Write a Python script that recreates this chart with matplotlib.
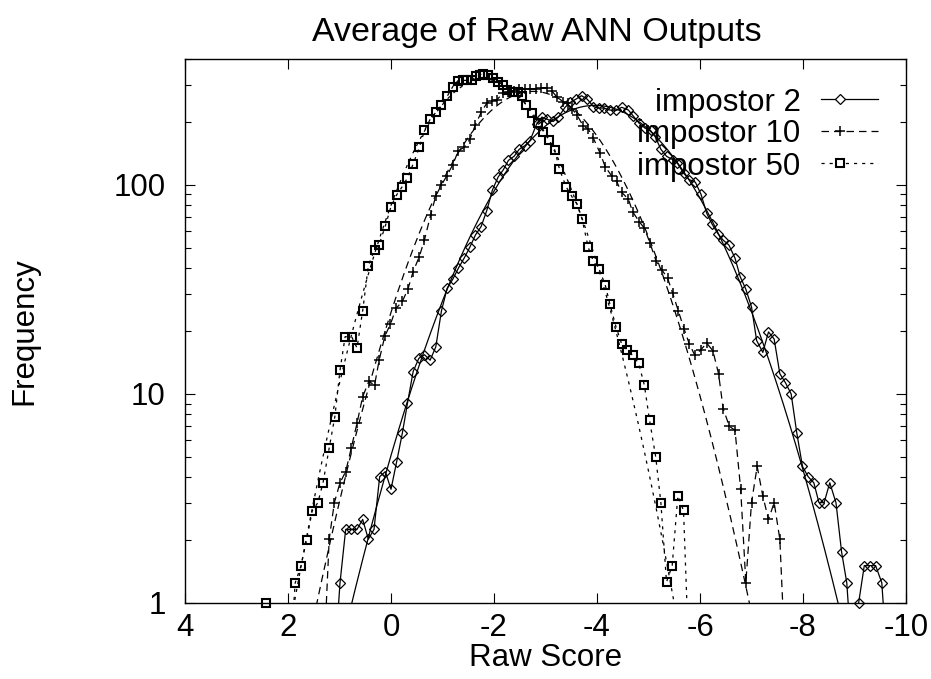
import numpy as np
import matplotlib
matplotlib.use("Agg")
import matplotlib.pyplot as plt
from matplotlib.ticker import NullFormatter, FixedLocator

plt.rcParams['font.family'] = ['Liberation Sans', 'DejaVu Sans']
plt.rcParams['axes.unicode_minus'] = False

# impostor 2 (diamonds)
x_imp2 = [1.10, 0.99, 0.88, 0.77, 0.66, 0.55, 0.44, 0.33, 0.22, 0.11, 0.0, -0.11, -0.22, -0.32,
          -0.43, -0.54, -0.65, -0.76, -0.87, -0.98, -1.09, -1.20, -1.31, -1.42, -1.53, -1.64,
          -1.75, -1.86, -1.97, -2.08, -2.18, -2.28, -2.39, -2.49, -2.60, -2.70, -2.83, -2.93,
          -3.03, -3.15, -3.25, -3.38, -3.48, -3.59, -3.70, -3.81, -3.93, -4.03, -4.14, -4.25,
          -4.37, -4.48, -4.61, -4.70, -4.82, -4.93, -5.04, -5.13, -5.24, -5.35, -5.47, -5.56,
          -5.68, -5.79, -5.91, -6.02, -6.13, -6.23, -6.35, -6.45, -6.56, -6.68, -6.78, -6.89,
          -7.00, -7.10, -7.22, -7.33, -7.44, -7.55, -7.66, -7.77, -7.88, -7.99, -8.10, -8.21,
          -8.31, -8.41, -8.52, -8.64, -8.75, -8.85, -8.96, -9.08, -9.19, -9.30, -9.41, -9.53, -9.64]
y_imp2 = [0.5, 1.25, 2.25, 2.25, 2.25, 2.51, 2.02, 2.25, 4.02, 4.25, 3.5, 4.74, 6.49, 9.03,
          12.8, 14.8, 15.4, 14.5, 16.8, 25, 32.0, 35.4, 40, 44.6, 50.3, 57.6,
          63.2, 75.4, 94.6, 109, 118, 131, 137, 148, 154, 163, 196, 211,
          206, 201, 211, 235, 248, 257, 267, 257, 237, 233, 233, 228,
          227, 235, 228, 214, 197, 187, 182, 170, 148, 137, 132, 127,
          114, 106, 103, 90, 73.2, 65.2, 58.3, 54.4, 51.6, 44.6, 36.4, 31.7,
          26.1, 18.0, 15.8, 19.8, 18.3, 12.5, 11.3, 10.0, 6.49, 4.5, 4.02, 3.76,
          3.02, 3.02, 3.76, 3.02, 1.75, 1.25, 0.5, 1.0, 1.51, 1.51, 1.51, 1.25, 0.5]

# impostor 10 (plus)
x_imp10 = [1.31, 1.20, 1.10, 0.99, 0.88, 0.77, 0.66, 0.55, 0.43, 0.32, 0.23, 0.12, 0.01, -0.10,
           -0.22, -0.33, -0.43, -0.55, -0.65, -0.77, -0.87, -0.98, -1.08, -1.20, -1.31, -1.42,
           -1.53, -1.64, -1.75, -1.86, -1.96, -2.06, -2.18, -2.28, -2.38, -2.49, -2.60, -2.70,
           -2.81, -2.92, -3.02, -3.13, -3.23, -3.34, -3.44, -3.52, -3.61, -3.73, -3.83, -3.93,
           -4.06, -4.16, -4.29, -4.38, -4.48, -4.61, -4.69, -4.82, -4.92, -5.03, -5.15, -5.26,
           -5.37, -5.47, -5.58, -5.69, -5.79, -5.90, -6.01, -6.13, -6.25, -6.36, -6.45, -6.57,
           -6.68, -6.79, -6.89, -7.00, -7.11, -7.22, -7.33, -7.44, -7.55, -7.66]
y_imp10 = [0.5, 2.02, 3.02, 3.76, 4.25, 5.53, 7.24, 9.7, 11.5, 11.0, 14.5, 18.9, 21.6, 25.7,
           27.7, 31.8, 38.5, 45.4, 54.6, 71.8, 88.6, 100, 110, 125, 146, 151,
           165, 194, 222, 246, 253, 256, 275, 279, 282, 287, 287, 288,
           288, 291, 291, 280, 262, 250, 246, 230, 216, 192, 185, 167,
           142, 122, 110, 104, 92, 85.5, 74.5, 66.7, 62.1, 52.6, 43, 39.2,
           35.8, 30.3, 24.9, 20.5, 17.4, 15.3, 16.2, 17.5, 16.1, 12.5, 8.5, 7.0,
           6.7, 3.5, 1.25, 3.02, 4.5, 3.25, 2.51, 3.02, 2.02, 0.5]

# impostor 50 (squares)
x_imp50 = [2.43, 2.33, 1.97, 1.86, 1.75, 1.64, 1.53, 1.42, 1.32, 1.20, 1.09, 0.99, 0.89, 0.76,
           0.66, 0.55, 0.44, 0.32, 0.23, 0.11, 0.0, -0.11, -0.22, -0.32, -0.43, -0.55,
           -0.65, -0.76, -0.87, -0.98, -1.09, -1.20, -1.30, -1.39, -1.48, -1.57, -1.65, -1.72,
           -1.79, -1.89, -1.99, -2.08, -2.18, -2.26, -2.36, -2.46, -2.54, -2.62, -2.73, -2.85,
           -2.96, -3.07, -3.18, -3.27, -3.40, -3.51, -3.61, -3.71, -3.83, -3.93, -4.04, -4.16,
           -4.25, -4.37, -4.48, -4.59, -4.69, -4.81, -4.92, -5.02, -5.14, -5.24, -5.35, -5.46,
           -5.57, -5.68, -5.79]
y_imp50 = [1.0, 0.3, 0.5, 1.25, 1.50, 2.0, 2.76, 3.02, 3.76, 5.52, 7.79, 13.0, 18.8, 18.7,
           16.6, 25.0, 41.0, 48.9, 51.8, 63.6, 78.8, 89.6, 98.2, 108, 126, 151,
           182, 206, 222, 240, 265, 295, 315, 316, 316, 316, 330, 336,
           340, 336, 324, 312, 301, 285, 277, 277, 265, 241, 220, 197,
           180, 164, 147, 119, 98, 88, 81, 68.5, 50.3, 43, 39.6, 33.2,
           26.9, 20.9, 17.3, 16.2, 15.3, 14.0, 11.0, 7.5, 5.0, 3.02, 1.26, 1.51,
           3.26, 2.77, 0.5]

labels = ["impostor 2", "impostor 10", "impostor 50"]
# gaussian fit of each distribution: peak height, centre, width
fit_peak = [240, 280, 320]
fit_centre = [-3.96, -2.76, -1.81]
fit_sigma = [1.426, 1.251, 1.086]

FS = 22.5
dash = (0, (6, 4))
dots = (0, (2.5, 4))
styles = [dict(ls='-', marker='D', ms=5.5, mew=0.9),
          dict(ls=dash, marker='+', ms=7.5, mew=1.1),
          dict(ls=dots, marker='s', ms=6.4, mew=1.5)]

fig = plt.figure(figsize=(9.31, 6.79), dpi=100)
ax = fig.add_axes([185 / 931, 1 - 603 / 679, 721 / 931, 544 / 679])

xs = [x_imp2, x_imp10, x_imp50]
ys = [y_imp2, y_imp10, y_imp50]
xfit = np.linspace(4, -10, 800)
for i in range(3):
    x = np.array(xs[i])
    y = np.array(ys[i])
    st = styles[i]
    ax.plot(x, y, ls=st['ls'], color='black', lw=0.9)
    yf = fit_peak[i] * np.exp(-(xfit - fit_centre[i]) ** 2 / (2 * fit_sigma[i] ** 2))
    ax.plot(xfit, yf, ls=st['ls'], color='black', lw=0.9)
    ok = y >= 1
    ax.plot(x[ok], y[ok], ls='none', marker=st['marker'], ms=st['ms'], mew=st['mew'],
            mfc='none', mec='black', clip_on=False, zorder=3)

ax.set_yscale('log')
ax.set_xlim(4, -10)
ax.set_ylim(1, 400)
ax.set_xticks([4, 2, 0, -2, -4, -6, -8, -10])
ax.yaxis.set_major_locator(FixedLocator([1, 10, 100]))
ax.yaxis.set_minor_formatter(NullFormatter())
ax.set_yticklabels(['1', '10', '100'])
ax.tick_params(which='both', direction='in', top=True, right=True, labelsize=FS, width=0.8)
ax.tick_params(axis='x', which='major', length=7, pad=7)
ax.tick_params(axis='y', which='major', length=7, pad=14)
ax.tick_params(axis='y', which='minor', length=4)
ax.tick_params(axis='x', which='minor', length=0)
for s in ax.spines.values():
    s.set_linewidth(1.0)

ax.set_title("Average of Raw ANN Outputs", fontsize=24.5, pad=13, x=0.488)
ax.set_xlabel("Raw Score", fontsize=FS, labelpad=0)
ax.set_ylabel("Frequency", fontsize=FS, labelpad=53)

# gnuplot style key, text right aligned
rows = [0.926, 0.868, 0.808]
for i in range(3):
    st = styles[i]
    ax.text(0.854, rows[i], labels[i], transform=ax.transAxes, ha='right',
            va='center_baseline', fontsize=FS)
    ax.plot([0.882, 0.961], [rows[i], rows[i]], transform=ax.transAxes, ls=st['ls'],
            color='black', lw=0.9)
    ax.plot([0.908], [rows[i]], transform=ax.transAxes, ls='none', marker=st['marker'],
            ms=st['ms'], mew=st['mew'], mfc='white', mec='black')

fig.savefig("out.png", dpi=100)
